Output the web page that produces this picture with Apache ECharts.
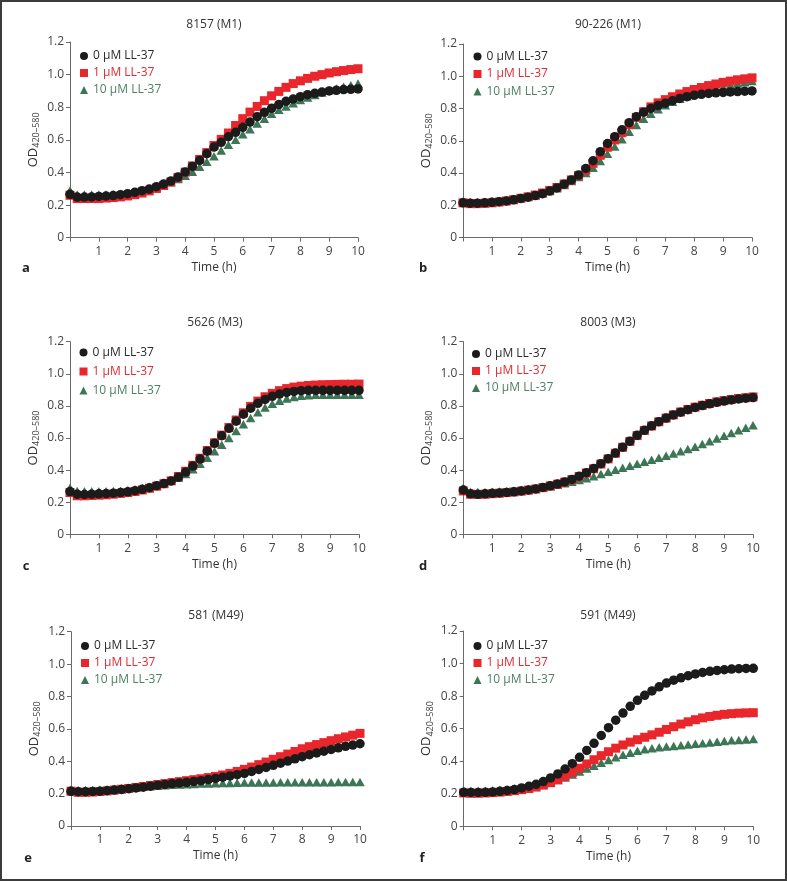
<!DOCTYPE html>
<html>
<head>
<meta charset="utf-8">
<script src="https://cdn.jsdelivr.net/npm/echarts@6/dist/echarts.min.js"></script>
<style>html,body{margin:0;padding:0;background:#fff}#c{width:787px;height:881px}</style>
</head>
<body>
<div id="c"></div>
<script>
const TIME = [0,0.25,0.5,0.75,1,1.25,1.5,1.75,2,2.25,2.5,2.75,3,3.25,3.5,3.75,4,4.25,4.5,4.75,5,5.25,5.5,5.75,6,6.25,6.5,6.75,7,7.25,7.5,7.75,8,8.25,8.5,8.75,9,9.25,9.5,9.75,10];
const SERIES_NAMES = ['0 μM LL-37','1 μM LL-37','10 μM LL-37'];
const TITLES = ['8157 (M1)','90-226 (M1)','5626 (M3)','8003 (M3)','581 (M49)','591 (M49)'];
const LETTERS = ['a','b','c','d','e','f'];
const X_LABELS = ['','1','2','3','4','5','6','7','8','9','10'];
const Y_LABELS = ['0','0.2','0.4','0.6','0.8','1.0','1.2'];

// panel a: 8157 (M1)
const A_0  = [0.266,0.249,0.249,0.25,0.253,0.255,0.258,0.264,0.27,0.278,0.288,0.298,0.313,0.329,0.347,0.372,0.403,0.437,0.474,0.515,0.556,0.585,0.619,0.646,0.677,0.709,0.742,0.769,0.793,0.816,0.836,0.85,0.865,0.877,0.885,0.893,0.9,0.904,0.908,0.91,0.912];
const A_1  = [0.26,0.24,0.24,0.24,0.24,0.243,0.246,0.25,0.256,0.264,0.274,0.287,0.302,0.32,0.342,0.37,0.402,0.44,0.48,0.522,0.565,0.603,0.642,0.688,0.73,0.77,0.805,0.84,0.87,0.897,0.922,0.945,0.962,0.977,0.99,1.0,1.01,1.018,1.025,1.031,1.036];
const A_10 = [0.29,0.265,0.265,0.265,0.265,0.265,0.268,0.27,0.275,0.28,0.29,0.3,0.31,0.325,0.34,0.36,0.38,0.405,0.435,0.465,0.5,0.535,0.57,0.6,0.635,0.665,0.7,0.73,0.76,0.785,0.805,0.825,0.845,0.86,0.875,0.89,0.905,0.915,0.925,0.935,0.945];
// panel b: 90-226 (M1)
const B_0  = [0.215,0.213,0.213,0.215,0.218,0.222,0.227,0.234,0.242,0.25,0.26,0.272,0.288,0.307,0.331,0.357,0.387,0.428,0.476,0.532,0.583,0.625,0.668,0.712,0.749,0.777,0.8,0.818,0.832,0.848,0.862,0.873,0.882,0.888,0.893,0.897,0.9,0.903,0.905,0.907,0.909];
const B_1  = [0.215,0.21,0.21,0.212,0.215,0.22,0.226,0.234,0.243,0.252,0.263,0.276,0.292,0.31,0.332,0.357,0.385,0.418,0.46,0.51,0.56,0.605,0.65,0.7,0.745,0.78,0.81,0.835,0.855,0.873,0.89,0.905,0.918,0.93,0.942,0.952,0.962,0.97,0.978,0.984,0.99];
const B_10 = [0.225,0.22,0.22,0.222,0.225,0.228,0.232,0.238,0.245,0.253,0.262,0.274,0.288,0.305,0.325,0.35,0.375,0.4,0.432,0.475,0.52,0.565,0.61,0.656,0.697,0.737,0.768,0.796,0.82,0.842,0.86,0.876,0.89,0.903,0.915,0.925,0.935,0.945,0.955,0.963,0.97];
// panel c: 5626 (M3)
const C_0  = [0.266,0.25,0.248,0.25,0.252,0.254,0.256,0.26,0.265,0.272,0.28,0.29,0.303,0.316,0.332,0.356,0.388,0.425,0.469,0.518,0.567,0.614,0.66,0.705,0.748,0.786,0.816,0.84,0.86,0.874,0.884,0.89,0.895,0.897,0.897,0.897,0.897,0.897,0.897,0.897,0.897];
const C_1  = [0.26,0.24,0.24,0.242,0.244,0.246,0.25,0.255,0.26,0.267,0.276,0.287,0.3,0.315,0.333,0.36,0.393,0.43,0.474,0.522,0.57,0.618,0.665,0.712,0.757,0.797,0.83,0.857,0.878,0.895,0.908,0.917,0.923,0.927,0.93,0.932,0.933,0.934,0.935,0.935,0.936];
const C_10 = [0.29,0.27,0.268,0.268,0.268,0.268,0.27,0.272,0.276,0.281,0.288,0.296,0.306,0.318,0.333,0.352,0.375,0.405,0.44,0.477,0.517,0.558,0.6,0.643,0.685,0.725,0.76,0.79,0.813,0.832,0.846,0.856,0.863,0.867,0.869,0.87,0.87,0.87,0.87,0.87,0.87];
// panel d: 8003 (M3)
const D_0  = [0.276,0.252,0.25,0.252,0.255,0.258,0.261,0.265,0.27,0.276,0.283,0.292,0.302,0.313,0.326,0.342,0.362,0.384,0.41,0.44,0.471,0.506,0.543,0.58,0.617,0.648,0.676,0.702,0.724,0.744,0.761,0.776,0.79,0.802,0.813,0.822,0.83,0.837,0.843,0.848,0.852];
const D_1  = [0.27,0.25,0.248,0.25,0.253,0.256,0.26,0.264,0.269,0.275,0.282,0.291,0.301,0.312,0.325,0.341,0.36,0.382,0.408,0.438,0.47,0.505,0.542,0.579,0.615,0.647,0.675,0.701,0.724,0.744,0.762,0.778,0.792,0.804,0.815,0.825,0.833,0.84,0.846,0.851,0.856];
const D_10 = [0.29,0.265,0.263,0.263,0.265,0.267,0.27,0.273,0.277,0.282,0.287,0.293,0.3,0.31,0.318,0.328,0.338,0.35,0.362,0.376,0.39,0.402,0.414,0.427,0.44,0.452,0.464,0.477,0.49,0.503,0.517,0.531,0.546,0.563,0.58,0.597,0.614,0.631,0.648,0.664,0.68];
// panel e: 581 (M49)
const E_0  = [0.214,0.212,0.212,0.213,0.215,0.218,0.222,0.226,0.23,0.235,0.24,0.246,0.252,0.257,0.262,0.266,0.27,0.275,0.28,0.287,0.294,0.301,0.309,0.317,0.325,0.337,0.349,0.362,0.375,0.388,0.401,0.415,0.428,0.44,0.451,0.462,0.473,0.483,0.492,0.5,0.508];
const E_1  = [0.215,0.208,0.208,0.21,0.213,0.217,0.222,0.227,0.232,0.238,0.244,0.25,0.256,0.262,0.268,0.274,0.28,0.286,0.292,0.299,0.306,0.315,0.325,0.337,0.35,0.364,0.379,0.395,0.412,0.428,0.444,0.46,0.477,0.49,0.503,0.515,0.527,0.539,0.55,0.561,0.572];
const E_10 = [0.225,0.222,0.222,0.223,0.225,0.227,0.23,0.233,0.236,0.239,0.242,0.245,0.248,0.251,0.254,0.256,0.258,0.26,0.262,0.263,0.264,0.265,0.266,0.267,0.268,0.268,0.269,0.269,0.269,0.27,0.27,0.27,0.27,0.27,0.27,0.27,0.27,0.271,0.271,0.271,0.271];
// panel f: 591 (M49)
const F_0  = [0.209,0.208,0.208,0.209,0.211,0.215,0.22,0.226,0.236,0.246,0.258,0.275,0.297,0.322,0.352,0.385,0.424,0.466,0.51,0.558,0.606,0.652,0.696,0.737,0.774,0.805,0.832,0.857,0.88,0.898,0.912,0.925,0.936,0.945,0.952,0.958,0.962,0.966,0.968,0.97,0.971];
const F_1  = [0.205,0.203,0.203,0.205,0.207,0.21,0.214,0.219,0.225,0.232,0.241,0.253,0.268,0.286,0.307,0.331,0.357,0.383,0.409,0.434,0.458,0.48,0.5,0.517,0.532,0.547,0.562,0.578,0.595,0.612,0.628,0.642,0.655,0.666,0.675,0.682,0.688,0.692,0.695,0.697,0.698];
const F_10 = [0.22,0.218,0.218,0.219,0.221,0.224,0.228,0.232,0.237,0.243,0.25,0.259,0.27,0.284,0.3,0.318,0.337,0.355,0.372,0.39,0.408,0.424,0.439,0.452,0.464,0.473,0.48,0.486,0.49,0.494,0.498,0.502,0.507,0.511,0.515,0.519,0.524,0.528,0.531,0.534,0.537];

const PANELS = [[A_0,A_1,A_10],[B_0,B_1,B_10],[C_0,C_1,C_10],[D_0,D_1,D_10],[E_0,E_1,E_10],[F_0,F_1,F_10]];

// layout (pixels)
const GRIDS = [
  {left:70, top:42, width:288, height:195.7},
  {left:463, top:44, width:289, height:193.5},
  {left:70, top:341.7, width:289, height:192.6},
  {left:463.3, top:341.7, width:289.7, height:192.6},
  {left:71, top:631.7, width:289, height:194.3},
  {left:463.7, top:631, width:289.6, height:195.3}
];
const TITLE_POS = [[214,25],[608,25],[215,323],[608,323],[216,616],[608,616]];
const LETTER_POS = [[26,268],[423,268],[26,566],[423,566],[28,858],[422,858]];
const LEGEND_POS = [[80,50,5],[473.5,50.5,5.5],[79.5,346.5,7],[472,348,5],[81,640,5],[473.5,640,5]];

const FONT = '"Open Sans", "Noto Sans", sans-serif';
const COLORS = ['#1b1b1b','#e8262b','#3d7656'];
const TEXT_COLORS = ['#2a2a2a','#e32a30','#4f7f67'];
const SYMBOLS = ['circle','rect','triangle'];
const SIZES = [9.5,9,[9.5,8.5]];
const DRAW_ORDER = [2,1,0];

const option = {
  animation:false,
  backgroundColor:'#fff',
  grid: GRIDS.map(g=>Object.assign({containLabel:false},g)),
  xAxis: GRIDS.map((g,i)=>({
    type:'value', gridIndex:i, min:0, max:10, interval:1,
    name:'Time (h)', nameLocation:'middle', nameGap:24,
    nameTextStyle:{fontFamily:FONT,fontSize:12,color:'#333'},
    axisLine:{show:true,onZero:false,lineStyle:{color:'#6a6a6a',width:1}},
    axisTick:{show:true,length:4,lineStyle:{color:'#6a6a6a'}},
    axisLabel:{fontFamily:FONT,fontSize:12,color:'#444',margin:8,
      formatter:(v)=>X_LABELS[Math.round(v)] ?? ''},
    splitLine:{show:false}
  })),
  yAxis: GRIDS.map((g,i)=>({
    type:'value', gridIndex:i, min:0, max:1.2, interval:0.2,
    name:'{a|OD}{b|420–580}', nameLocation:'middle', nameGap:29, nameRotate:90,
    nameTextStyle:{fontFamily:FONT,color:'#333',rich:{
      a:{fontFamily:FONT,fontSize:13,color:'#333'},
      b:{fontFamily:FONT,fontSize:9,color:'#444',padding:[7,0,0,0]}
    }},
    axisLine:{show:true,lineStyle:{color:'#6a6a6a',width:1}},
    axisTick:{show:true,length:4,lineStyle:{color:'#6a6a6a'}},
    axisLabel:{fontFamily:FONT,fontSize:12,color:'#444',margin:6,
      formatter:(v)=>Y_LABELS[Math.round(v/0.2)]},
    splitLine:{show:false}
  })),
  legend: GRIDS.map((g,i)=>({
    orient:'vertical', left:LEGEND_POS[i][0], top:LEGEND_POS[i][1], padding:0,
    itemGap:LEGEND_POS[i][2], itemWidth:8, itemHeight:8,
    selectedMode:false,
    textStyle:{fontFamily:FONT,fontSize:12},
    data: SERIES_NAMES.map((n,k)=>({name:n, icon:SYMBOLS[k], textStyle:{color:TEXT_COLORS[k]}}))
  })),
  series: [],
  graphic: [
    {type:'rect', shape:{x:1,y:1,width:785,height:879}, style:{fill:'none',stroke:'#3c3c3c',lineWidth:2}, silent:true}
  ]
};

PANELS.forEach((p,i)=>{
  DRAW_ORDER.forEach(k=>{
    option.series.push({
      type:'scatter', name:SERIES_NAMES[k], xAxisIndex:i, yAxisIndex:i,
      symbol:SYMBOLS[k], symbolSize:SIZES[k],
      itemStyle:{color:COLORS[k], opacity:1},
      data: TIME.map((t,j)=>[t,p[k][j]])
    });
  });
  option.graphic.push({type:'text', x:TITLE_POS[i][0], y:TITLE_POS[i][1],
    style:{text:TITLES[i], font:'12px '+FONT, fill:'#333', textAlign:'center', textVerticalAlign:'middle'}});
  option.graphic.push({type:'text', x:LETTER_POS[i][0], y:LETTER_POS[i][1],
    style:{text:LETTERS[i], font:'bold 13px '+FONT, fill:'#222', textAlign:'center', textVerticalAlign:'middle'}});
});

const chart = echarts.init(document.getElementById('c'), null, {renderer:'canvas'});
chart.setOption(option);
</script>
</body>
</html>
